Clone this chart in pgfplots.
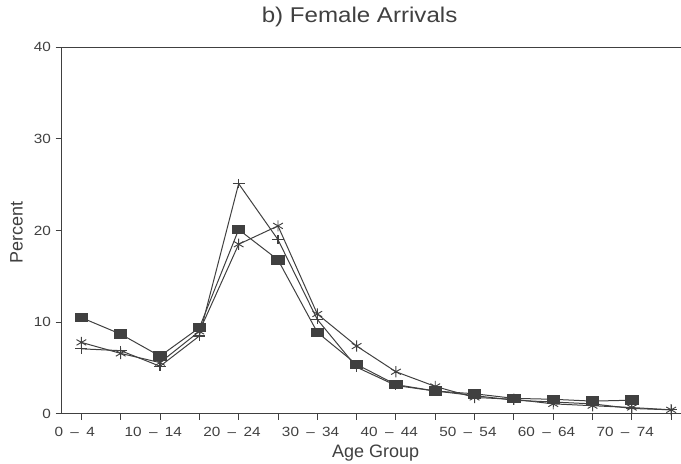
\documentclass[border=0pt]{standalone}
\usepackage{pgfplots}
\pgfplotsset{compat=1.18}
\usepackage{fontspec}
\setmainfont{Liberation Sans}
\newfontfamily\widesans[FakeStretch=1.15, Ligatures=TeX]{Liberation Sans}
\newfontfamily\titlesans[FakeStretch=1.13, Ligatures=TeX]{Liberation Sans}
\definecolor{ink}{gray}{0.25}
\newcommand{\rg}[2]{#1\hspace{0.55em}–\hspace{0.55em}#2}
\pgfplotstableread{
i sq
0 10.5
1 8.7
2 6.3
3 9.4
4 20.1
5 16.8
6 8.9
7 5.4
8 3.2
9 2.5
10 2.2
11 1.7
12 1.6
13 1.4
14 1.5
}\sqdata
\pgfplotstableread{
i pl
0 7.1
1 6.9
2 5.2
3 8.5
4 25.1
5 19.0
6 10.3
7 5.1
8 3.1
9 2.5
10 2.0
11 1.5
12 1.3
13 1.1
14 0.6
15 0.45
}\pldata
\pgfplotstableread{
i as
0 7.8
1 6.6
2 5.6
3 9.0
4 18.5
5 20.5
6 10.9
7 7.4
8 4.6
9 3.0
10 1.8
11 1.6
12 1.1
13 0.9
14 0.7
15 0.45
}\asdata
\begin{document}
\begin{tikzpicture}
\begin{axis}[name=ax, scale only axis, width=464.5pt, height=275.25pt,
  xmin=-0.5, xmax=15.25, ymin=0, ymax=40,
  axis x line=box, axis y line=left,
  axis line style={-, line width=0.7pt, ink},
  xtick={0,...,15},
  xticklabels={\rg{0}{4},,\rg{10}{14},,\rg{20}{24},,\rg{30}{34},,\rg{40}{44},,\rg{50}{54},,\rg{60}{64},,\rg{70}{74},},
  ytick={0,10,20,30,40},
  xtick pos=left, ytick pos=left,
  tick align=outside, major tick length=4.5pt,
  tick style={line width=0.7pt, ink},
  /pgf/number format/assume math mode=true,
  tick label style={font=\widesans\fontsize{10}{12}\selectfont, text=ink},
  xticklabel style={xshift=-5pt, yshift=-2pt},
  title={b) Female Arrivals},
  title style={at={(axis description cs:0.481,1.044)}, anchor=base, font=\titlesans\fontsize{16}{18}\selectfont, text=ink},
  xlabel={Age Group},
  xlabel style={at={(axis description cs:0.507,-0.106)}, anchor=center, font=\fontsize{13.5}{15}\selectfont, text=ink},
  ylabel={Percent},
  ylabel style={at={(axis description cs:-0.073,0.494)}, anchor=center, rotate=0, font=\fontsize{13.5}{15}\selectfont, text=ink},
  clip=false,
]
\addplot[ink, line width=0.75pt, mark=square*, mark size=3.2pt, mark options={xscale=1.45, fill=ink, draw=ink}] table[x=i, y=sq] {\sqdata};
\addplot[ink, line width=0.75pt, mark=+, mark size=4.5pt, mark options={yscale=0.8, line width=0.8pt}] table[x=i, y=pl] {\pldata};
\addplot[ink, line width=0.75pt, mark=asterisk, mark size=4.2pt, mark options={line width=0.7pt}] table[x=i, y=as] {\asdata};
\end{axis}
\pgfresetboundingbox
\path[use as bounding box] ([xshift=-46.3pt,yshift=-37.5pt]ax.south west) rectangle ([yshift=310.5pt]ax.south east);
\end{tikzpicture}
\end{document}
